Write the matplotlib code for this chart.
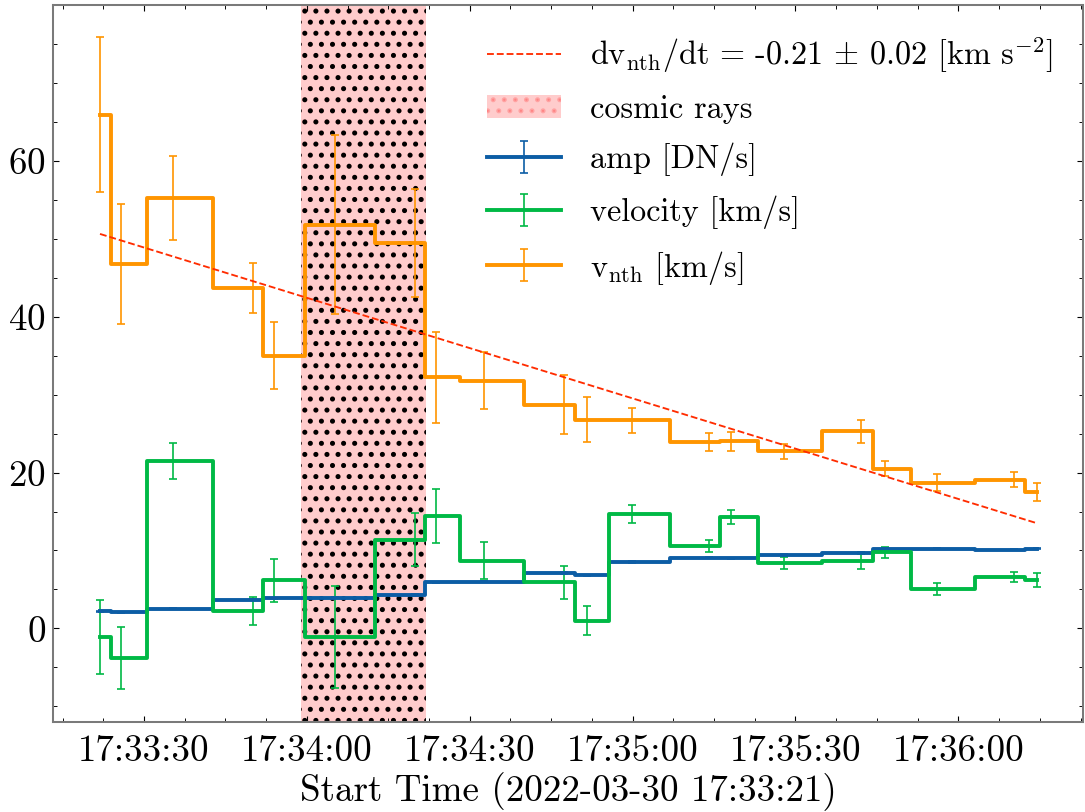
import matplotlib
matplotlib.use("Agg")
import matplotlib.pyplot as plt
from matplotlib.ticker import MultipleLocator, FuncFormatter

# seconds after 2022-03-30 17:33:21
time_s = [0.9, 4.8, 14.3, 29.0, 33.0, 44.2, 58.9, 62.8, 71.6, 86.3,
          90.6, 98.8, 113.0, 117.2, 126.9, 141.0, 145.4, 155.0, 169.2, 173.4]

amp = [2.2, 2.05, 2.55, 3.7, 3.85, 3.95, 4.3, 5.9, 6.0, 7.1,
       6.8, 8.5, 9.1, 9.0, 9.4, 9.7, 10.25, 10.25, 10.1, 10.25]
amp_err = [0.1, 0.1, 0.1, 0.1, 0.1, 0.1, 0.1, 0.1, 0.1, 0.1,
           0.1, 0.1, 0.1, 0.1, 0.1, 0.1, 0.1, 0.1, 0.1, 0.1]

velocity = [-1.1, -3.8, 21.5, 2.2, 6.2, -1.1, 11.4, 14.4, 8.7, 5.9,
            1.0, 14.65, 10.6, 14.3, 8.4, 8.6, 9.8, 5.1, 6.6, 6.2]
velocity_err = [4.8, 4.0, 2.35, 1.8, 2.75, 6.6, 3.45, 3.5, 2.4, 2.15,
                1.9, 1.15, 0.8, 0.85, 0.8, 1.0, 0.7, 0.75, 0.7, 0.9]

vnth = [65.9, 46.7, 55.2, 43.7, 35.0, 51.8, 49.4, 32.2, 31.8, 28.7,
        26.8, 26.7, 23.9, 24.0, 22.7, 25.3, 20.5, 18.7, 19.1, 17.5]
vnth_err = [9.9, 7.7, 5.4, 3.2, 4.3, 11.5, 6.9, 5.8, 3.6, 3.75,
            2.85, 1.6, 1.2, 1.2, 1.0, 1.5, 0.95, 1.05, 1.0, 1.1]

# linear fit of v_nth
fit_v0 = 50.6
fit_slope = -0.215

cosmic_start, cosmic_end = 37.9, 60.9
start_hms = (17, 33, 21)

plt.rcParams['font.family'] = 'serif'
plt.rcParams['font.serif'] = ['cmr10']
plt.rcParams['mathtext.fontset'] = 'cm'
plt.rcParams['axes.formatter.use_mathtext'] = True
plt.rcParams['hatch.linewidth'] = 1.5


def fmt_time(x, pos):
    s = start_hms[0] * 3600 + start_hms[1] * 60 + start_hms[2] + int(round(x))
    return f"{s // 3600:02d}:{(s % 3600) // 60:02d}:{s % 60:02d}"


fig, ax = plt.subplots(figsize=(8.1376, 6.0901), dpi=400 / 3)
fig.subplots_adjust(left=0.049, right=0.9985, top=0.994, bottom=0.111)

# fit line first so it leads the legend
fit_t = [time_s[0], time_s[-1]]
fit_v = [fit_v0 + fit_slope * (t - time_s[0]) for t in fit_t]
ax.plot(fit_t, fit_v, '--', color='#FF2C00', lw=1.0, zorder=5,
        label=r'dv$_{\rm nth}$/dt = -0.21 $\pm$ 0.02 [km s$^{-2}$]')

ax.axvspan(cosmic_start, cosmic_end, color='red', alpha=0.2, hatch='..',
           lw=0, label='cosmic rays')
ax.axvspan(cosmic_start, cosmic_end, facecolor='none', edgecolor='k',
           hatch='..', lw=0)

kw = dict(drawstyle='steps-mid', lw=2.1, elinewidth=0.9, capsize=2.0, capthick=0.9)
ax.errorbar(time_s, amp, yerr=amp_err, color='#0C5DA5', label='amp [DN/s]', **kw)
ax.errorbar(time_s, velocity, yerr=velocity_err, color='#00B945',
            label='velocity [km/s]', **kw)
ax.errorbar(time_s, vnth, yerr=vnth_err, color='#FF9500',
            label=r'v$_{\rm nth}$ [km/s]', **kw)

ax.xaxis.set_major_locator(MultipleLocator(30, offset=9))
ax.xaxis.set_minor_locator(MultipleLocator(7.5, offset=1.5))
ax.xaxis.set_major_formatter(FuncFormatter(fmt_time))
ax.yaxis.set_major_locator(MultipleLocator(20))
ax.yaxis.set_minor_locator(MultipleLocator(5))

ax.tick_params(which='both', direction='in', top=True, right=True,
               labelsize=20, color='k')
ax.tick_params(which='major', length=3.2, width=0.6, pad=7)
ax.tick_params(which='minor', length=1.9, width=0.5)
ax.tick_params(axis='y', pad=4)
for sp in ax.spines.values():
    sp.set_color('#7a7a7a')
    sp.set_linewidth(1.1)

ax.set_xlabel('Start Time (2022-03-30 17:33:21)', fontsize=20, labelpad=2)

ax.legend(loc='upper right', frameon=False, fontsize=17.4, handlelength=2.3,
          handletextpad=0.9, labelspacing=0.6, borderaxespad=0.55)

fig.savefig('out.png', dpi=400 / 3)
